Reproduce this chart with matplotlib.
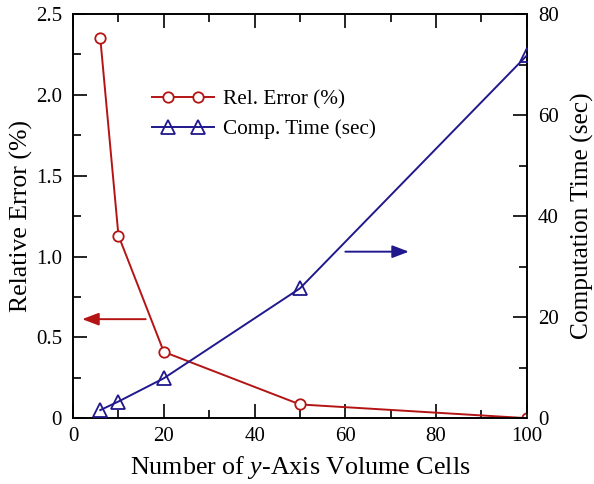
import matplotlib
matplotlib.use("Agg")
import matplotlib.pyplot as plt
from matplotlib.ticker import MultipleLocator
from matplotlib.legend_handler import HandlerLine2D
from matplotlib.lines import Line2D

plt.rcParams['font.family'] = ['Liberation Serif', 'DejaVu Serif']
plt.rcParams['mathtext.fontset'] = 'custom'
plt.rcParams['mathtext.it'] = 'Liberation Serif:italic'
plt.rcParams['mathtext.rm'] = 'Liberation Serif'

cells = [6, 10, 20, 50, 100]
rel_error = [2.35, 1.13, 0.41, 0.085, 0.0]
comp_time = [1.6, 3.3, 7.9, 25.7, 71.8]

red = '#B41414'
blue = '#20188C'


class InsetMarkerHandler(HandlerLine2D):
    def create_artists(self, legend, orig_handle, xdescent, ydescent,
                       width, height, fontsize, trans):
        pad = 0.75 * fontsize
        x0 = -xdescent
        x1 = -xdescent + width
        xdata = [x0, x0 + pad, x1 - pad, x1]
        y = (height - ydescent) / 2
        line = Line2D(xdata, [y] * 4)
        self.update_prop(line, orig_handle, legend)
        line.set_markevery([1, 2])
        line.set_transform(trans)
        return [line]


fig = plt.figure(figsize=(5.94, 4.84), dpi=100)
ax = fig.add_axes([0.123, 0.136, 0.764, 0.835])
ax2 = ax.twinx()

l1, = ax.plot(cells, rel_error, color=red, lw=1.4, marker='o', ms=7.5,
              mfc='white', mec=red, mew=1.3, label='Rel. Error (%)', zorder=3)
l2, = ax2.plot(cells, comp_time, color=blue, lw=1.4, marker='^', ms=9.5,
               mfc='none', mec=blue, mew=1.3, label='Comp. Time (sec)', zorder=3)

ax.set_xlim(0, 100)
ax.set_ylim(0, 2.5)
ax2.set_ylim(0, 80)
ax.xaxis.set_major_locator(MultipleLocator(20))
ax.xaxis.set_minor_locator(MultipleLocator(10))
ax.yaxis.set_major_locator(MultipleLocator(0.5))
ax.yaxis.set_minor_locator(MultipleLocator(0.25))
ax2.yaxis.set_major_locator(MultipleLocator(20))
ax2.yaxis.set_minor_locator(MultipleLocator(10))

ax.set_yticks([0, 0.5, 1.0, 1.5, 2.0, 2.5])
ax.set_yticklabels(['0', '0.5', '1.0', '1.5', '2.0', '2.5'])

for a in (ax, ax2):
    a.tick_params(which='both', direction='in', labelsize=15, width=1.2)
    a.tick_params(which='major', length=10)
    a.tick_params(which='minor', length=6)
    for s in a.spines.values():
        s.set_linewidth(1.2)
ax.tick_params(which='both', top=True, right=False)
ax.tick_params(axis='x', pad=6)
ax.tick_params(axis='y', pad=8)
ax2.tick_params(axis='y', pad=8)

ax.set_xlabel('Number of $y$-Axis Volume Cells', fontsize=18.7, labelpad=6)
ax.set_ylabel('Relative Error (%)', fontsize=18.5, labelpad=2)
ax2.set_ylabel('Computation Time (sec)', fontsize=18.3, labelpad=9)

h = InsetMarkerHandler()
ax.legend([l1, l2], ['Rel. Error (%)', 'Comp. Time (sec)'], loc='upper left',
          bbox_to_anchor=(0.155, 0.833), frameon=False, fontsize=15.3,
          handlelength=2.9, labelspacing=0.45, handletextpad=0.45,
          borderaxespad=0, handler_map={l1: h, l2: h})

ax.annotate('', xy=(0.02, 0.245), xytext=(0.16, 0.245), xycoords='axes fraction',
            arrowprops=dict(arrowstyle='-|>,head_length=1.0,head_width=0.38',
                            color=red, lw=1.4, shrinkA=0, shrinkB=0))
ax.annotate('', xy=(0.74, 0.412), xytext=(0.6, 0.412), xycoords='axes fraction',
            arrowprops=dict(arrowstyle='-|>,head_length=1.0,head_width=0.38',
                            color=blue, lw=1.4, shrinkA=0, shrinkB=0))

fig.savefig('out.png', dpi=100)
